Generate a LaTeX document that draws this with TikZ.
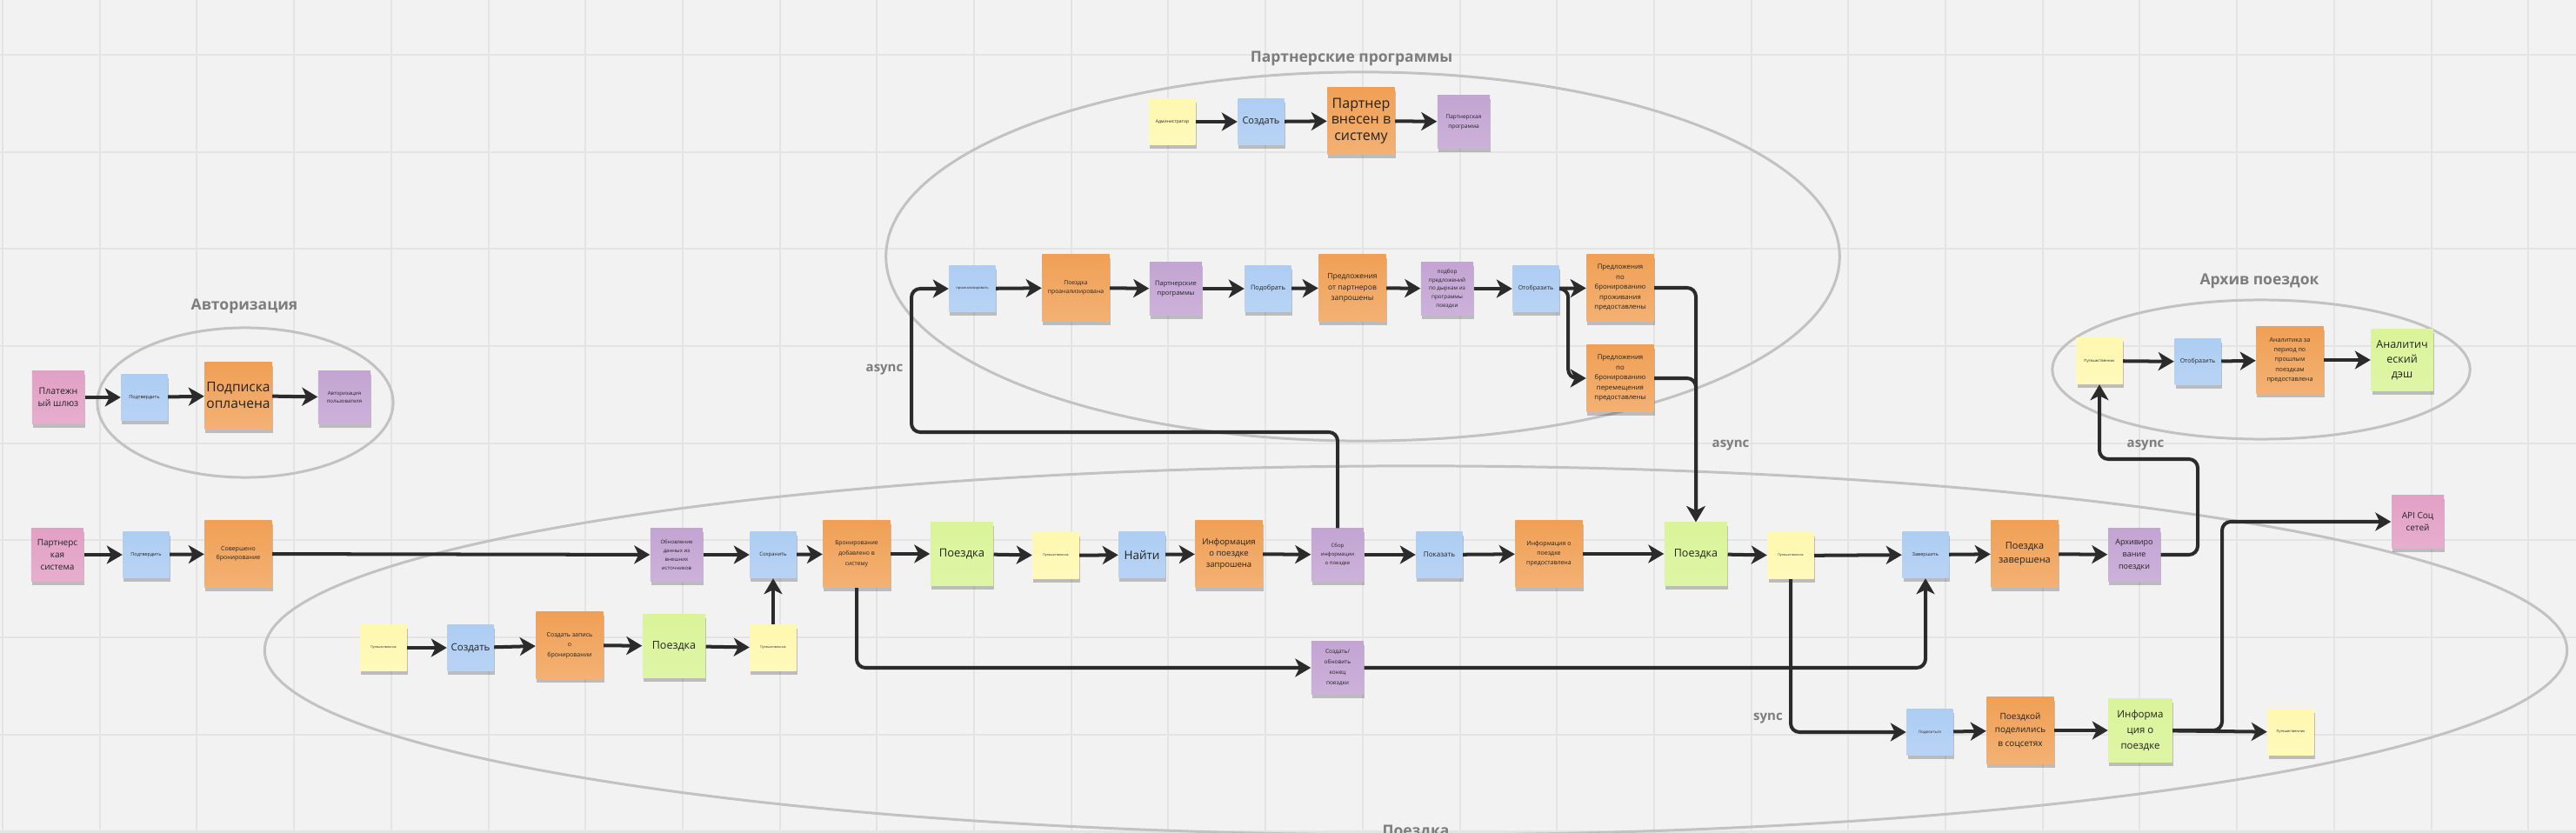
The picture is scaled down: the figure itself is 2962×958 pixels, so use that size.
\documentclass[tikz,border=0pt]{standalone}
\usepackage{fontspec}
\setmainfont{Open Sans}
\usetikzlibrary{arrows.meta,shadows}
\definecolor{bgc}{HTML}{F2F2F2}
\definecolor{gridc}{HTML}{E4E4E4}
\definecolor{ellc}{HTML}{C2C2C2}
\definecolor{linec}{HTML}{2B2B2B}
\definecolor{hdrc}{HTML}{7D7D7D}
\definecolor{txtc}{HTML}{222222}
\definecolor{cpink}{HTML}{E2A0C5}
\definecolor{cblue}{HTML}{AECDF3}
\definecolor{corange}{HTML}{F0A055}
\definecolor{cpurple}{HTML}{C3A4D3}
\definecolor{cyellow}{HTML}{FFF8B0}
\definecolor{cgreen}{HTML}{DAF49A}
\newcommand\fpx[2]{\pgfmathsetmacro\fszA{#1*0.2845}\pgfmathsetmacro\fszB{#2*0.2845}\fontsize{\fszA pt}{\fszB pt}\selectfont}
\tikzset{
  note/.style={inner sep=0pt, align=center, text=txtc,
    drop shadow={shadow xshift=0.01cm, shadow yshift=-0.045cm, opacity=0.22, fill=black}},
  pinknote/.style={note, top color=cpink, bottom color=cpink!85!white, minimum width=0.60cm, minimum height=0.60cm},
  bluenote/.style={note, top color=cblue, bottom color=cblue!88!white, minimum width=0.53cm, minimum height=0.53cm},
  orangenote/.style={note, top color=corange, bottom color=corange!82!white, minimum width=0.77cm, minimum height=0.77cm},
  purplenote/.style={note, top color=cpurple, bottom color=cpurple!85!white, minimum width=0.60cm, minimum height=0.60cm},
  yellownote/.style={note, top color=cyellow, bottom color=cyellow!85!white, minimum width=0.53cm, minimum height=0.53cm},
  greennote/.style={note, top color=cgreen, bottom color=cgreen!88!white, minimum width=0.72cm, minimum height=0.72cm},
  arr/.style={draw=linec, line width=1.14pt, rounded corners=0.1cm, -{Stealth[length=0.18cm,width=0.21cm,inset=0.05cm]}},
  grp/.style={draw=ellc, line width=0.85pt},
  hdr/.style={text=hdrc, inner sep=0pt, font={\fpx{17.5}{22}\bfseries}},
  lbl/.style={text=hdrc, inner sep=0pt, font={\fpx{15}{18}\bfseries}},
  gridl/.style={draw=gridc, line width=0.57pt}
}
\begin{document}
\begin{tikzpicture}[x=0.01cm, y=-0.01cm]
\useasboundingbox (0,0) rectangle (2962,958);
\fill[bgc] (0,0) rectangle (2962,958);
\foreach \i in {0,...,26} \draw[gridl] ({3+111.7*\i},0) -- ({3+111.7*\i},958);
\foreach \j in {0,...,8} \draw[gridl] (0,{62.9+111.7*\j}) -- (2962,{62.9+111.7*\j});

% group ellipses
\draw[grp] (282,463) ellipse [x radius=1.70cm, y radius=0.86cm];
\draw[grp] (1567,295) ellipse [x radius=5.48cm, y radius=2.12cm];
\draw[grp] (2600,425) ellipse [x radius=2.40cm, y radius=0.80cm];
\draw[grp] (1628,748) ellipse [x radius=13.23cm, y radius=2.12cm];

% headers
\node[hdr] (hauth) at (281,352) {Авторизация};
\node[hdr] (hpart) at (1554,67) {Партнерские программы};
\node[hdr] (harch) at (2598,323) {Архив поездок};
\node[hdr] (htrip) at (1628,957) {Поездка};
\node[lbl] (as1) at (1017,425) {async};
\node[lbl] (as2) at (1990,512) {async};
\node[lbl] (as3) at (2467,512) {async};
\node[lbl] (sy1) at (2033,826) {sync};

% Авторизация
\node[pinknote, font=\fpx{10.5}{14.5}] (pay) at (67,457) {Платежн\\ый шлюз};
\node[bluenote, font=\fpx{5.5}{8}] (aconf) at (166,457) {Подтвердить};
\node[orangenote, font=\fpx{15.5}{19}] (paid) at (274,455) {Подписка\\оплачена};
\node[purplenote, font=\fpx{6}{9}] (auser) at (396,457) {Авторизация\\пользователя};

% Партнерские программы
\node[yellownote, font=\fpx{5}{7}] (admin) at (1348,140) {Администратор};
\node[bluenote, font=\fpx{11}{14}] (createp) at (1450,140) {Создать};
\node[orangenote, font=\fpx{16}{18.5}] (padded) at (1565,139) {Партнер\\внесен в\\систему};
\node[purplenote, font=\fpx{6.5}{11}] (pprog) at (1683,140) {Партнерская\\программа};

\node[bluenote, font=\fpx{4}{6}] (analyze) at (1118,332) {проанализировать};
\node[orangenote, font=\fpx{6.8}{9.5}] (tanal) at (1237,331) {Поездка\\проанализирована};
\node[purplenote, font=\fpx{7.5}{11}] (pprogs) at (1352,332) {Партнерские\\программы};
\node[bluenote, font=\fpx{7.5}{10}] (pick) at (1458,332) {Подобрать};
\node[orangenote, font=\fpx{8.5}{12.3}] (offreq) at (1555,331) {Предложения\\от партнеров\\запрошены};
\node[purplenote, font=\fpx{6.3}{9.7}] (pholes) at (1664,332) {подбор\\предложений\\по дыркам из\\программы\\поездки};
\node[bluenote, font=\fpx{7}{10}] (disp) at (1766,332) {Отобразить};
\node[orangenote, font=\fpx{7.8}{11.5}] (oliv) at (1863,331) {Предложения\\по\\бронированию\\проживания\\предоставлены};
\node[orangenote, font=\fpx{7.8}{11.5}] (omov) at (1863,435) {Предложения\\по\\бронированию\\перемещения\\предоставлены};

% Архив поездок
\node[yellownote, font=\fpx{4.3}{6}] (trarch) at (2414,415) {Путешественник};
\node[bluenote, font=\fpx{7}{10}] (darch) at (2527,416) {Отобразить};
\node[orangenote, font=\fpx{7.2}{11.3}] (anal) at (2633,414) {Аналитика за\\период по\\прошлым\\поездкам\\предоставлена};
\node[greennote, minimum width=0.71cm, minimum height=0.71cm, font=\fpx{12.5}{16.7}] (dash) at (2762,414) {Аналитич\\еский\\дэш};

% main row
\node[pinknote, font=\fpx{10}{13.8}] (psys) at (66,638) {Партнерс\\кая\\система};
\node[bluenote, font=\fpx{5.5}{8}] (conf2) at (168,638) {Подтвердить};
\node[orangenote, font=\fpx{7}{10.5}] (booked) at (274,637) {Совершено\\бронирование};
\node[purplenote, font=\fpx{6}{10}] (upd) at (778,638) {Обновление\\данных из\\внешних\\источников};
\node[bluenote, font=\fpx{6}{8}] (save) at (889,638) {Сохранить};
\node[orangenote, font=\fpx{6.8}{11.7}] (badd) at (985,637) {Бронирование\\добавлено в\\систему};
\node[greennote, font=\fpx{13}{16}] (trip1) at (1106,637) {Поездка};
\node[yellownote, font=\fpx{3.6}{5}] (trav1) at (1214,639) {Путешественник};
\node[bluenote, font=\fpx{13.5}{16}] (find) at (1313,638) {Найти};
\node[orangenote, font=\fpx{9.5}{13.3}] (ireq) at (1413,637) {Информация\\о поездке\\запрошена};
\node[purplenote, font=\fpx{6}{10}] (sbor) at (1538,638) {Сбор\\информации\\о поездке};
\node[bluenote, font=\fpx{8}{10}] (show) at (1655,638) {Показать};
\node[orangenote, font=\fpx{7}{11}] (iprov) at (1781,637) {Информация о\\поездке\\предоставлена};
\node[greennote, font=\fpx{12.5}{16}] (trip2) at (1950,637) {Поездка};
\node[yellownote, font=\fpx{3.6}{5}] (trav2) at (2059,639) {Путешественник};
\node[bluenote, font=\fpx{5.5}{8}] (finish) at (2214,638) {Завершить};
\node[orangenote, font=\fpx{11}{16}] (tdone) at (2328,637) {Поездка\\завершена};
\node[purplenote, font=\fpx{9}{13.8}] (arch) at (2454,638) {Архивиро\\вание\\поездки};
\node[pinknote, font=\fpx{10}{14}] (api) at (2780,600) {API Соц\\сетей};

% lower row
\node[yellownote, font=\fpx{3.6}{5}] (travA) at (441,745) {Путешественник};
\node[bluenote, font=\fpx{11.5}{14}] (createB) at (541,745) {Создать};
\node[orangenote, font=\fpx{7}{11.3}] (record) at (655,742) {Создать запись\\о\\бронировании};
\node[greennote, font=\fpx{12.5}{16}] (tripB) at (775,743) {Поездка};
\node[yellownote, font=\fpx{3.6}{5}] (travB) at (889,745) {Путешественник};
\node[purplenote, font=\fpx{6.5}{12}] (updend) at (1538,768) {Создать/\\обновить\\конец\\поездки};

% bottom right row
\node[bluenote, font=\fpx{4.5}{6}] (share) at (2219,842) {Поделиться};
\node[orangenote, font=\fpx{10}{15.7}] (shared) at (2323,840) {Поездкой\\поделились\\в соцсетях};
\node[greennote, minimum width=0.73cm, font=\fpx{11.5}{17.7}] (igreen) at (2461,840) {Информа\\ция о\\поездке};
\node[yellownote, font=\fpx{4}{6}] (trav3) at (2634,842) {Путешественник};

% connector helper points
\coordinate (asyncA) at (1048,497);
\coordinate (arcC) at (2527,528);
\coordinate (apiC) at (2555,600);

% connectors
\draw[arr] (pay) -- (aconf);
\draw[arr] (aconf) -- (paid);
\draw[arr] (paid) -- (auser);

\draw[arr] (admin) -- (createp);
\draw[arr] (createp) -- (padded);
\draw[arr] (padded) -- (pprog);

\draw[arr] (analyze) -- (tanal);
\draw[arr] (tanal) -- (pprogs);
\draw[arr] (pprogs) -- (pick);
\draw[arr] (pick) -- (offreq);
\draw[arr] (offreq) -- (pholes);
\draw[arr] (pholes) -- (disp);
\draw[arr] (disp) -- (oliv);
\draw[arr] (disp.east) -- ++(10,0) |- (omov.west);
\draw[arr] (oliv.east) -| (trip2.north);
\draw[arr] (omov.east) -| (trip2.north);

\draw[arr] (trarch) -- (darch);
\draw[arr] (darch) -- (anal);
\draw[arr] (anal) -- (dash);

\draw[arr] (psys) -- (conf2);
\draw[arr] (conf2) -- (booked);
\draw[arr] (booked) -- (upd);
\draw[arr] (upd) -- (save);
\draw[arr] (save) -- (badd);
\draw[arr] (badd) -- (trip1);
\draw[arr] (trip1) -- (trav1);
\draw[arr] (trav1) -- (find);
\draw[arr] (find) -- (ireq);
\draw[arr] (ireq) -- (sbor);
\draw[arr] (sbor) -- (show);
\draw[arr] (show) -- (iprov);
\draw[arr] (iprov) -- (trip2);
\draw[arr] (trip2) -- (trav2);
\draw[arr] (trav2) -- (finish);
\draw[arr] (finish) -- (tdone);
\draw[arr] (tdone) -- (arch);

\draw[arr] (sbor.north) |- (asyncA) |- (analyze.west);
\draw[arr] (arch.east) -| (arcC) -| (trarch.south);

\draw[arr] (travA) -- (createB);
\draw[arr] (createB) -- (record);
\draw[arr] (record) -- (tripB);
\draw[arr] (tripB) -- (travB);
\draw[arr] (travB.north) -- (save.south);

\draw[arr] (badd.south) |- (updend.west);
\draw[arr] (updend.east) -| (finish.south);
\draw[arr] (trav2.south) |- (share.west);

\draw[arr] (share) -- (shared);
\draw[arr] (shared) -- (igreen);
\draw[arr] (igreen) -- (trav3);
\draw[arr] (igreen.east) -| (apiC) -- (api.west);
\end{tikzpicture}
\end{document}
